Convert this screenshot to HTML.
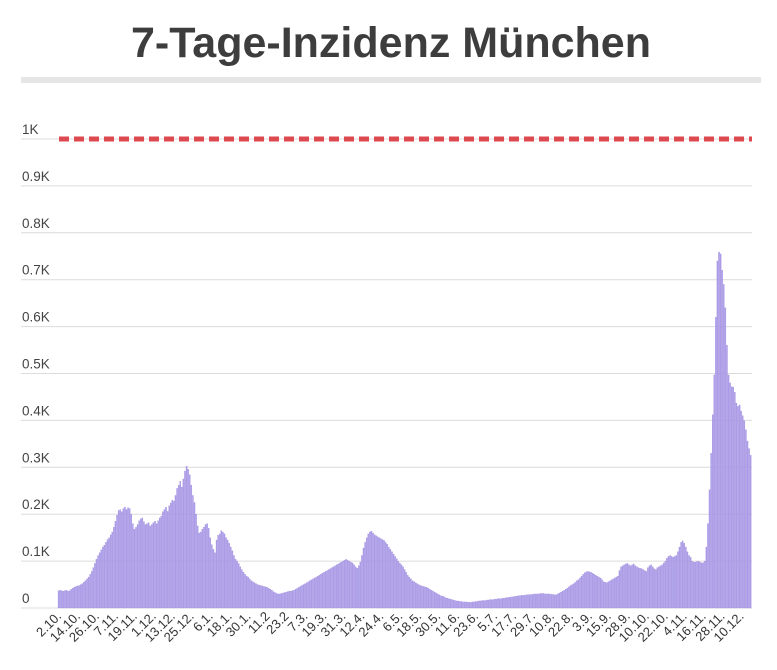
<!DOCTYPE html>
<html><head><meta charset="utf-8"><style>
body{margin:0;background:#fff;width:777px;height:665px;overflow:hidden;font-family:"Liberation Sans",sans-serif}
</style></head><body>
<svg width="777" height="665" xmlns="http://www.w3.org/2000/svg">
<text x="391" y="57" text-anchor="middle" font-size="43" font-weight="bold" fill="#3d3d3d" font-family="Liberation Sans, sans-serif">7-Tage-Inzidenz München</text>
<rect x="21" y="77" width="740" height="6" fill="#e6e6e6"/>
<g id="grid"></g><g id="bars"></g><g id="ref"></g><g id="xl"></g>
</svg>
<script>
const values=[37,38,37,36,37,38,36,37,40,42,44,46,47,48,50,52,55,58,62,66,72,78,86,95,104,112,118,124,130,134,140,146,150,156,162,172,185,198,208,210,205,212,215,210,214,212,200,180,168,172,178,186,190,192,184,178,180,182,175,178,182,185,180,186,192,196,205,210,215,206,218,224,230,228,240,255,262,270,258,275,292,302,296,284,262,240,225,200,175,160,162,168,172,178,180,170,150,135,125,118,145,155,158,165,162,158,150,145,138,130,122,112,104,100,95,88,82,76,72,68,66,62,58,56,54,52,50,49,48,47,46,45,44,42,40,38,35,33,31,30,30,31,32,33,34,35,36,36,37,38,40,42,44,46,48,50,52,54,56,58,60,62,64,66,68,70,72,74,76,78,80,82,84,86,88,90,92,94,96,98,100,102,104,102,100,98,96,92,88,85,90,98,112,128,140,150,158,162,164,160,156,154,152,150,148,146,144,140,136,130,125,120,115,110,105,100,96,92,88,82,76,70,66,62,58,56,54,52,50,48,47,46,45,44,42,40,38,36,34,32,30,28,26,25,24,22,21,20,19,18,17,16,15,15,14,14,13,13,13,12,12,12,13,13,14,14,15,15,16,16,16,17,17,18,18,18,19,19,20,20,20,21,21,22,22,23,23,24,24,25,25,26,26,27,27,27,28,28,28,29,29,30,30,30,30,31,31,31,30,30,30,30,29,29,28,28,30,32,34,36,38,40,42,45,48,50,52,55,58,60,64,68,72,75,77,78,77,76,74,72,70,68,66,64,60,56,55,54,56,58,60,62,64,66,68,80,88,90,92,94,95,92,90,92,94,90,88,86,85,84,82,80,78,86,90,92,88,84,82,86,88,90,92,96,100,106,110,112,110,108,110,112,120,130,140,143,138,130,120,112,108,100,98,98,99,100,98,96,97,100,130,180,252,330,412,497,620,740,759,755,720,690,640,560,497,480,472,471,460,437,430,433,420,410,399,380,356,340,326];
const yTicks=[0,100,200,300,400,500,600,700,800,900,1000];
const yTickLabels=["0","0.1K","0.2K","0.3K","0.4K","0.5K","0.6K","0.7K","0.8K","0.9K","1K"];
const xLabels=["2.10.","14.10.","26.10.","7.11.","19.11.","1.12.","13.12.","25.12.","6.1.","18.1.","30.1.","11.2","23.2","7.3.","19.3.","31.3.","12.4.","24.4.","6.5.","18.5.","30.5.","11.6.","23.6.","5.7.","17.7.","29.7.","10.8.","22.8.","3.9.","15.9.","28.9.","10.10.","22.10.","4.11.","16.11.","28.11.","10.12."];
const refLine=1000;
const labelStep=12;
const NS="http://www.w3.org/2000/svg";
const x0=58,dayW=1.58,y0=608,pxPerUnit=0.469;
const X=d=>x0+d*dayW, Y=v=>y0-v*pxPerUnit;
function mk(t,a,p){const e=document.createElementNS(NS,t);for(const k in a)e.setAttribute(k,a[k]);p.appendChild(e);return e;}
const grid=document.getElementById('grid');
yTicks.forEach((t,i)=>{
 const l=mk('line',{x1:21,x2:752,y1:Y(t),y2:Y(t),stroke:'#dcdcdc','stroke-width':1},grid);
 
 
 const tx=mk('text',{x:22,y:Y(t)-5,'font-size':13.5,fill:'#444'},grid);
 tx.textContent=yTickLabels[i];
 
 
});
const bars=document.getElementById('bars');
values.forEach((v,i)=>{
 const r=mk('rect',{x:X(i),y:Y(v),width:dayW-0.4,height:y0-Y(v),fill:'#ae9fe8',stroke:'#9886de','stroke-width':0.25},bars);
 
 
});
const ref=mk('line',{x1:59,x2:752,y1:Y(refLine),y2:Y(refLine),stroke:'#dc4a50','stroke-width':5,'stroke-dasharray':'10,5'},document.getElementById('ref'));


const xl=document.getElementById('xl');
xLabels.forEach((s,i)=>{
 const x=X(i*labelStep)+4;
 const t=mk('text',{x:x,y:617,'font-size':13,fill:'#333','text-anchor':'end',transform:`rotate(-45 ${x} 617)`},xl);
 t.textContent=s;
 
 
});
</script>
</body></html>
